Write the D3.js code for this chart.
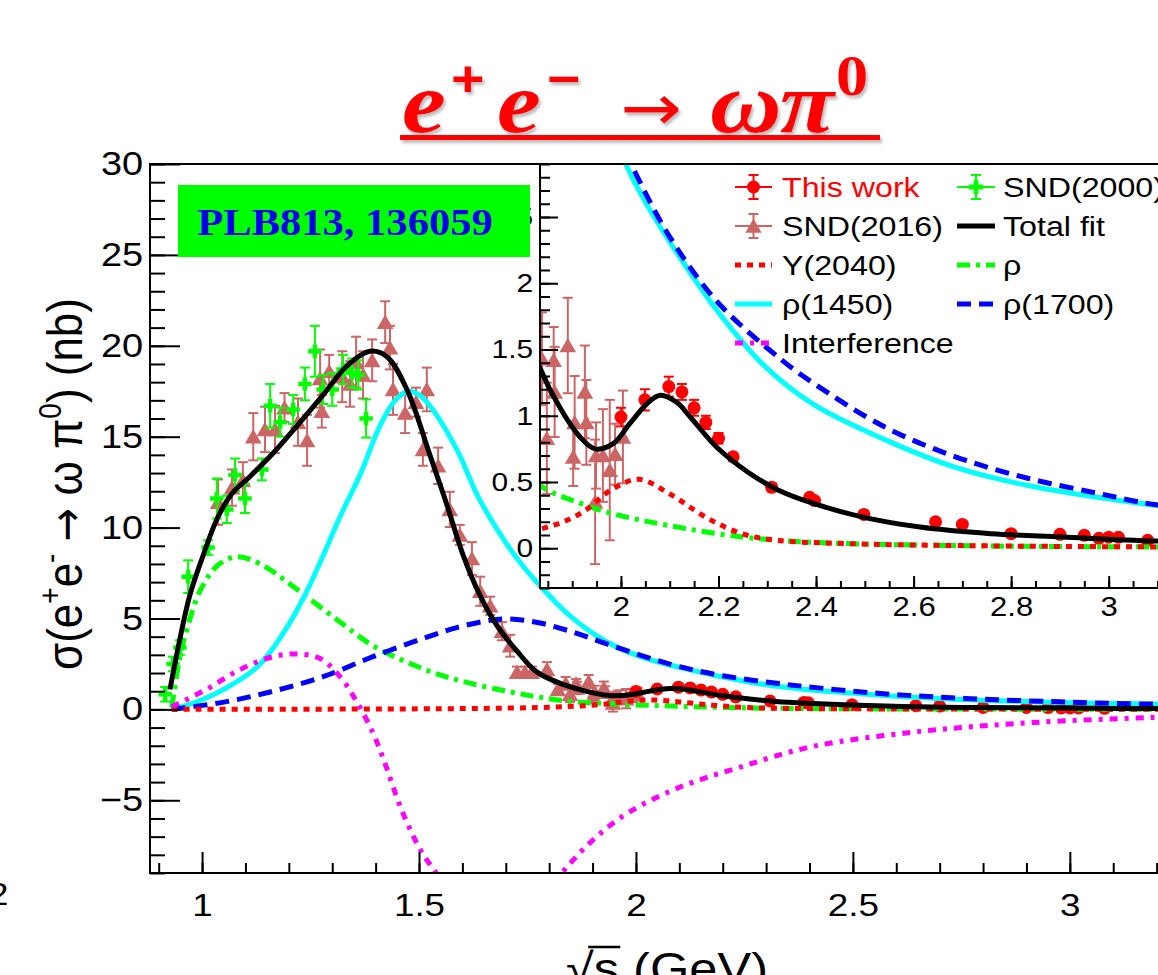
<!DOCTYPE html>
<html>
<head>
<meta charset="utf-8">
<script src="https://cdn.jsdelivr.net/npm/d3@7"></script>
<style>
  body { margin: 0; background: #fff; }
  svg { display: block; }
</style>
</head>
<body>
<svg id="chart" width="1158" height="975"></svg>
<script>
// axis ranges and tick labels
const mainDomainX = [0.88, 3.3];
const mainDomainY = [-9, 30];
const insetDomainX = [1.834, 3.3];
const insetDomainY = [-0.3, 2.9];
const mainTickX = [1, 1.5, 2, 2.5, 3];
const mainTickY = [-5, 0, 5, 10, 15, 20, 25, 30];
const insetTickX = [2, 2.2, 2.4, 2.6, 2.8, 3];
const insetTickY = [0, 0.5, 1, 1.5, 2, 2.5];

// fit curves [sqrt(s) GeV, sigma nb]
const totalFit = [[0.926,1.1],[0.95,4.0],[0.972,6.3],[1.0,8.3],[1.035,10.5],[1.07,11.9],[1.11,12.8],[1.164,14.1],[1.219,15.6],[1.279,17.3],[1.334,18.9],[1.387,19.7],[1.426,19.4],[1.472,17.6],[1.525,14.0],[1.565,11.2],[1.60,8.6],[1.64,6.3],[1.68,4.6],[1.726,3.2],[1.772,2.05],[1.834,1.36],[1.875,1.06],[1.916,0.84],[1.947,0.75],[1.984,0.79],[2.018,0.94],[2.053,1.09],[2.08,1.155],[2.115,1.10],[2.14,1.0],[2.197,0.76],[2.262,0.57],[2.322,0.44],[2.393,0.34],[2.496,0.235],[2.613,0.16],[2.758,0.11],[2.905,0.085],[3.094,0.055],[3.3,0.04]];
const rho = [[0.93,0.1],[0.95,3.0],[0.965,4.4],[0.995,6.5],[1.035,7.9],[1.08,8.4],[1.134,8.0],[1.219,6.6],[1.318,4.8],[1.394,3.5],[1.472,2.6],[1.548,1.9],[1.624,1.4],[1.703,1.0],[1.77,0.7],[1.84,0.46],[1.916,0.34],[1.984,0.26],[2.1,0.17],[2.248,0.085],[2.393,0.045],[2.686,0.02],[3.1,0.01],[3.3,0.008]];
const rho1450 = [[0.93,0],[0.98,0.35],[1.05,1.1],[1.13,2.4],[1.19,4.3],[1.233,6.1],[1.276,8.3],[1.318,10.6],[1.364,12.9],[1.41,15.6],[1.445,17.0],[1.475,17.5],[1.50,17.3],[1.525,16.7],[1.587,14.3],[1.634,11.8],[1.68,9.9],[1.726,8.3],[1.779,6.8],[1.85,5.1],[1.93,3.75],[2.01,2.9],[2.06,2.55],[2.12,2.2],[2.2,1.78],[2.293,1.38],[2.393,1.09],[2.541,0.82],[2.686,0.61],[2.832,0.475],[2.977,0.385],[3.094,0.325],[3.3,0.26]];
const rho1700 = [[0.93,0],[1.05,0.4],[1.164,1.0],[1.279,1.8],[1.394,2.9],[1.509,3.9],[1.587,4.5],[1.664,4.9],[1.71,4.97],[1.779,4.75],[1.855,4.25],[1.933,3.6],[2.018,2.92],[2.1,2.35],[2.2,1.85],[2.33,1.42],[2.393,1.25],[2.541,0.915],[2.686,0.69],[2.832,0.53],[2.977,0.415],[3.094,0.33],[3.3,0.26]];
const y2040 = [[0.93,0],[1.2,0.01],[1.5,0.03],[1.7,0.07],[1.84,0.15],[1.916,0.26],[1.984,0.45],[2.037,0.52],[2.1,0.41],[2.176,0.23],[2.248,0.11],[2.32,0.06],[2.467,0.035],[2.7,0.02],[3.1,0.01],[3.3,0.008]];
const interference = [[0.93,0.15],[1.01,1.1],[1.088,2.2],[1.164,2.9],[1.219,3.05],[1.272,2.8],[1.318,1.8],[1.357,0.4],[1.394,-1.3],[1.419,-2.8],[1.461,-5.6],[1.505,-7.8],[1.539,-9.0],[1.6,-11.2],[1.68,-12.2],[1.76,-11.0],[1.827,-9.05],[1.90,-7.2],[1.981,-5.7],[2.099,-4.3],[2.237,-3.2],[2.405,-2.05],[2.661,-1.2],[2.917,-0.72],[3.19,-0.45],[3.3,-0.4]];

// measurements [sqrt(s), sigma, error]
const thisWork = [[2.0,0.99,0.07],[2.049,1.12,0.08],[2.098,1.22,0.075],[2.125,1.18,0.06],[2.15,1.06,0.06],[2.174,0.95,0.05],[2.2,0.83,0.04],[2.23,0.69,0.03],[2.309,0.46,0.03],[2.387,0.385,0.02],[2.397,0.36,0.02],[2.498,0.255,0.02],[2.645,0.20,0.02],[2.70,0.18,0.02],[2.80,0.11,0.015],[2.90,0.105,0.015],[2.95,0.098,0.015],[2.98,0.075,0.015],[3.0,0.083,0.015],[3.02,0.083,0.015],[3.08,0.06,0.015]];
const snd2000 = [[0.915,0.83,0.4],[0.933,2.5,0.4],[0.949,3.4,0.4],[0.968,7.3,0.9],[1.014,8.9,0.4],[1.034,11.6,1.1],[1.057,11.0,0.75],[1.076,12.9,0.9],[1.099,11.6,0.8],[1.138,13.2,0.6],[1.157,16.7,1.2],[1.18,15.8,0.8],[1.21,16.5,0.8],[1.237,17.9,0.9],[1.26,19.7,1.4],[1.279,17.6,0.8],[1.30,17.6,0.9],[1.325,18.7,0.8],[1.346,18.5,0.8],[1.36,18.4,0.8],[1.378,16.0,1.05]];
const snd2016 = [[1.037,11.4,1.25],[1.069,12.2,1.0],[1.094,12.6,1.0],[1.118,15.0,1.3],[1.145,15.4,1.25],[1.168,15.4,1.3],[1.19,16.6,0.8],[1.221,15.8,1.3],[1.242,14.8,1.4],[1.272,18.2,1.6],[1.276,16.4,0.9],[1.293,18.6,0.9],[1.323,18.3,1.4],[1.341,17.9,1.25],[1.355,19.1,1.4],[1.371,18.4,1.3],[1.392,19.2,1.15],[1.422,21.3,1.15],[1.433,19.9,1.2],[1.44,17.6,1.4],[1.468,16.3,1.1],[1.493,16.9,0.8],[1.509,14.3,0.9],[1.518,17.6,1.2],[1.544,13.4,1.0],[1.571,11.0,0.97],[1.594,9.6,0.55],[1.622,8.3,0.9],[1.641,6.5,0.8],[1.664,5.7,0.5],[1.691,4.3,0.5],[1.71,3.5,0.6],[1.726,2.05,0.3],[1.744,2.05,0.3],[1.76,2.05,0.3],[1.795,2.2,0.4],[1.82,1.1,0.3],[1.838,1.43,0.35],[1.848,0.83,0.42],[1.862,1.42,0.25],[1.864,1.18,0.34],[1.891,1.53,0.36],[1.902,0.69,0.22],[1.905,0.95,0.35],[1.926,1.18,0.35],[1.929,0.95,0.32],[1.947,0.35,0.47],[1.949,0.70,0.25],[1.963,0.70,0.35],[1.977,0.59,0.53],[1.988,0.71,0.23],[2.004,0.84,0.35]];

const legendNames = ["This work", "SND(2000)", "SND(2016)", "Total fit", "Y(2040)", "\u03c1", "\u03c1(1450)", "\u03c1(1700)", "Interference"];

const SX = 1.15; // text in the picture is a bit wide
const FONT = "'Liberation Sans', Arial, Helvetica, sans-serif";
const SERIF = "'Liberation Serif', 'Times New Roman', serif";
const RED = "#ff0000", GREEN = "#00ff00", BLUE = "#0000ff", CYAN = "#00ffff", MAGENTA = "#ff00ff", ROSE = "#cc6666";

const styles = {
  rho:   { stroke: GREEN, dash: "13,6,4,6" },
  r1450: { stroke: CYAN, dash: null },
  r1700: { stroke: BLUE, dash: "14,8" },
  y2040: { stroke: RED, dash: "6,6" },
  inter: { stroke: MAGENTA, dash: "8,7,4,7" },
  total: { stroke: "#000", dash: null }
};

const svg = d3.select("#chart");
const defs = svg.append("defs");

function label(parent, x, y, str, size, anchor, fill) {
  return parent.append("text")
    .attr("transform", `translate(${x},${y}) scale(${SX},1)`)
    .attr("text-anchor", anchor || "start")
    .attr("font-family", FONT)
    .attr("font-size", size)
    .attr("fill", fill || "#000")
    .text(str);
}

function drawCurves(g, xs, ys) {
  const line = d3.line().x(d => xs(d[0])).y(d => ys(d[1])).curve(d3.curveCatmullRom.alpha(0.5));
  const series = [[rho, styles.rho], [rho1450, styles.r1450], [rho1700, styles.r1700],
                  [y2040, styles.y2040], [interference, styles.inter], [totalFit, styles.total]];
  series.forEach(([data, st]) => {
    g.append("path")
      .datum(data)
      .attr("fill", "none")
      .attr("stroke", st.stroke)
      .attr("stroke-width", 5)
      .attr("stroke-dasharray", st.dash)
      .attr("d", line);
  });
}

function errBars(g, data, xs, ys, color) {
  const eg = g.append("g").attr("stroke", color).attr("stroke-width", 2);
  data.forEach(d => {
    const px = xs(d[0]), lo = ys(d[1] - d[2]), hi = ys(d[1] + d[2]);
    eg.append("line").attr("x1", px).attr("x2", px).attr("y1", lo).attr("y2", hi);
    eg.append("line").attr("x1", px - 5).attr("x2", px + 5).attr("y1", lo).attr("y2", lo);
    eg.append("line").attr("x1", px - 5).attr("x2", px + 5).attr("y1", hi).attr("y2", hi);
  });
}

function drawPoints(g, xs, ys) {
  errBars(g, snd2016, xs, ys, ROSE);
  g.append("g").selectAll("path").data(snd2016).join("path")
    .attr("transform", d => `translate(${xs(d[0])},${ys(d[1]) + 2})`)
    .attr("d", d3.symbol(d3.symbolTriangle, 120))
    .attr("fill", ROSE);
  errBars(g, snd2000, xs, ys, GREEN);
  g.append("g").selectAll("path").data(snd2000).join("path")
    .attr("transform", d => `translate(${xs(d[0])},${ys(d[1])})`)
    .attr("d", d3.symbol(d3.symbolCross, 100))
    .attr("fill", GREEN);
  errBars(g, thisWork, xs, ys, RED);
  g.append("g").selectAll("circle").data(thisWork).join("circle")
    .attr("cx", d => xs(d[0])).attr("cy", d => ys(d[1]))
    .attr("r", 6.5).attr("fill", RED);
}

function axisTicks(g, axis, size, minorVals, minorSize, fontSize, fmt, pad) {
  g.call(axis.tickSizeInner(-size).tickSizeOuter(0).tickPadding(pad).tickFormat(fmt))
    .call(s => s.select(".domain").remove());
  g.selectAll(".tick line").attr("stroke", "#000").attr("stroke-width", 2);
  g.selectAll(".tick text")
    .attr("font-family", FONT).attr("font-size", fontSize).attr("fill", "#000")
    .attr("transform", `scale(${SX},1)`);
  const mg = g.append("g");
  mg.call(axis.tickValues(minorVals).tickSizeInner(-minorSize).tickFormat(""))
    .call(s => s.select(".domain").remove());
  mg.selectAll(".tick line").attr("stroke", "#000").attr("stroke-width", 2);
}

const fmtNum = d => (d < 0 ? "\u2212" + (-d) : String(d));

// ---------------- main pad ----------------
const x = d3.scaleLinear().domain(mainDomainX).range([150, 1200]);
const y = d3.scaleLinear().domain(mainDomainY).range([873, 164]);

defs.append("clipPath").attr("id", "clipMain")
  .append("rect").attr("x", 150).attr("y", 164).attr("width", 1100).attr("height", 709);

const gMain = svg.append("g").attr("clip-path", "url(#clipMain)");
drawPoints(gMain, x, y);
drawCurves(gMain, x, y);

// main frame
const frame = svg.append("g").attr("stroke", "#000").attr("stroke-width", 2);
frame.append("line").attr("x1", 150).attr("x2", 150).attr("y1", 164).attr("y2", 874);
frame.append("line").attr("x1", 149).attr("x2", 1158).attr("y1", 873).attr("y2", 873);
frame.append("line").attr("x1", 149).attr("x2", 540).attr("y1", 164).attr("y2", 164);

const minorMainX = d3.range(9, 33).map(v => v / 10);
const minorMainY = d3.range(-9, 31);
axisTicks(svg.append("g").attr("transform", "translate(0,873)"),
  d3.axisBottom(x).tickValues(mainTickX), 21, minorMainX, 10, 32, fmtNum, 20);
axisTicks(svg.append("g").attr("transform", "translate(150,0)"),
  d3.axisLeft(y).tickValues(mainTickY), 30, minorMainY, 15, 33, fmtNum, 6);

// ---------------- inset pad ----------------
const xi = d3.scaleLinear().domain(insetDomainX).range([540, 1255]);
const yi = d3.scaleLinear().domain(insetDomainY).range([588, 164]);

svg.append("rect").attr("x", 540).attr("y", 164).attr("width", 720).attr("height", 424)
  .attr("fill", "#fff").attr("stroke", "#000").attr("stroke-width", 2);

defs.append("clipPath").attr("id", "clipInset")
  .append("rect").attr("x", 541).attr("y", 165).attr("width", 720).attr("height", 422);
const gInset = svg.append("g").attr("clip-path", "url(#clipInset)");
drawPoints(gInset, xi, yi);
drawCurves(gInset, xi, yi);

const minorInsetX = d3.range(37, 67).map(v => v / 20);
const minorInsetY = d3.range(-3, 30).map(v => v / 10);
axisTicks(svg.append("g").attr("transform", "translate(0,588)"),
  d3.axisBottom(xi).tickValues(insetTickX), 12, minorInsetX, 7, 27, fmtNum, 9);
axisTicks(svg.append("g").attr("transform", "translate(540,0)"),
  d3.axisLeft(yi).tickValues(insetTickY), 18, minorInsetY, 10, 26, fmtNum, 6);

// ---------------- legend ----------------
const leg = svg.append("g");
const rowY = i => 187 + 39 * i;
const cols = [{ m0: 735, m1: 772, t: 782 }, { m0: 957, m1: 995, t: 1003 }];
const entries = [
  { n: 0, c: 0, r: 0, kind: "circle", color: RED },
  { n: 1, c: 1, r: 0, kind: "cross", color: GREEN },
  { n: 2, c: 0, r: 1, kind: "tri", color: ROSE },
  { n: 3, c: 1, r: 1, kind: "line", st: styles.total },
  { n: 4, c: 0, r: 2, kind: "line", st: styles.y2040 },
  { n: 5, c: 1, r: 2, kind: "line", st: styles.rho },
  { n: 6, c: 0, r: 3, kind: "line", st: styles.r1450 },
  { n: 7, c: 1, r: 3, kind: "line", st: styles.r1700 },
  { n: 8, c: 0, r: 4, kind: "line", st: styles.inter }
];
entries.forEach(e => {
  const col = cols[e.c], cy = rowY(e.r), cx = (col.m0 + col.m1) / 2;
  if (e.kind === "line") {
    leg.append("line").attr("x1", col.m0).attr("x2", col.m1).attr("y1", cy).attr("y2", cy)
      .attr("stroke", e.st.stroke).attr("stroke-width", 5).attr("stroke-dasharray", e.st.dash);
  } else {
    const lg = leg.append("g").attr("stroke", e.color).attr("stroke-width", 2);
    lg.append("line").attr("x1", col.m0).attr("x2", col.m1).attr("y1", cy).attr("y2", cy);
    lg.append("line").attr("x1", cx).attr("x2", cx).attr("y1", cy - 12).attr("y2", cy + 12);
    lg.append("line").attr("x1", cx - 5).attr("x2", cx + 5).attr("y1", cy - 12).attr("y2", cy - 12);
    lg.append("line").attr("x1", cx - 5).attr("x2", cx + 5).attr("y1", cy + 12).attr("y2", cy + 12);
    const sym = e.kind === "circle" ? d3.symbolCircle : e.kind === "cross" ? d3.symbolCross : d3.symbolTriangle;
    leg.append("path").attr("transform", `translate(${cx},${cy + (e.kind === "tri" ? 2 : 0)})`)
      .attr("d", d3.symbol(sym, e.kind === "circle" ? 133 : 115)).attr("fill", e.color);
  }
  label(leg, col.t, cy + 10, legendNames[e.n], 28, "start", e.n === 0 ? RED : "#000");
});

// ---------------- annotations ----------------
svg.append("rect").attr("x", 178).attr("y", 185).attr("width", 352).attr("height", 72).attr("fill", GREEN);
svg.append("text")
  .attr("transform", `translate(345,235) scale(${SX},1)`)
  .attr("text-anchor", "middle")
  .attr("font-family", SERIF).attr("font-weight", "bold").attr("font-size", 37)
  .attr("fill", "#0000ee")
  .text("PLB813, 136059");

// title
defs.append("filter").attr("id", "shadow").attr("x", "-10%").attr("y", "-20%").attr("width", "120%").attr("height", "150%")
  .append("feDropShadow").attr("dx", 2).attr("dy", 3).attr("stdDeviation", 1.5)
  .attr("flood-color", "#777").attr("flood-opacity", 0.5);
const title = svg.append("g").attr("filter", "url(#shadow)").attr("fill", RED);
const titleParts = [
  { s: "e", x: 402, y: 132, size: 86, w: "bold", st: "italic", f: SERIF },
  { s: "+", x: 451, y: 96, size: 50, w: "bold", st: "normal", f: FONT },
  { s: "e", x: 497, y: 132, size: 86, w: "bold", st: "italic", f: SERIF },
  { s: "\u2212", x: 547, y: 96, size: 50, w: "bold", st: "normal", f: FONT },
  { s: "\u2192", x: 620, y: 130, size: 64, w: "normal", st: "normal", f: "'DejaVu Sans', sans-serif" },
  { s: "\u03c9\u03c0", x: 710, y: 132, size: 86, w: "bold", st: "italic", f: SERIF },
  { s: "0", x: 836, y: 95, size: 56, w: "bold", st: "normal", f: SERIF }
];
titleParts.forEach(p => {
  title.append("text")
    .attr("transform", `translate(${p.x},${p.y}) scale(${SX},1)`)
    .attr("font-family", p.f).attr("font-size", p.size)
    .attr("font-weight", p.w).attr("font-style", p.st)
    .text(p.s);
});
title.append("rect").attr("x", 400).attr("y", 135).attr("width", 480).attr("height", 5);

// y axis title
const yt = svg.append("g").attr("transform", `translate(82,484) scale(${SX},1) rotate(-90)`)
  .append("text").attr("text-anchor", "middle").attr("font-family", FONT).attr("font-size", 44);
yt.append("tspan").text("\u03c3(e");
yt.append("tspan").attr("font-size", 28).attr("dy", -18).text("+");
yt.append("tspan").attr("dy", 18).text("e");
yt.append("tspan").attr("font-size", 28).attr("dy", -18).text("-");
yt.append("tspan").attr("dy", 18).text(" ");
yt.append("tspan").attr("font-family", "'DejaVu Sans', sans-serif").attr("font-size", 40).text("\u2192");
yt.append("tspan").text(" \u03c9 \u03c0");
yt.append("tspan").attr("font-size", 28).attr("dy", -18).text("0");
yt.append("tspan").attr("dy", 18).text(") (nb)");

// x axis title (cut by the bottom edge)
const xtG = svg.append("g").attr("transform", `translate(566,984) scale(${SX},1)`);
const xt = xtG.append("text").attr("font-family", FONT).attr("font-size", 44).text("\u221as (GeV)");
const sBox = xt.node().getExtentOfChar(1);
const rootBox = xt.node().getExtentOfChar(0);
xtG.append("line")
  .attr("x1", rootBox.x + rootBox.width * 0.8).attr("x2", sBox.x + sBox.width + 1)
  .attr("y1", rootBox.y + 3).attr("y2", rootBox.y + 3)
  .attr("stroke", "#000").attr("stroke-width", 2.5);

// stray label at the left edge
label(svg, -12, 905, "2", 32, "start");
</script>
</body>
</html>
